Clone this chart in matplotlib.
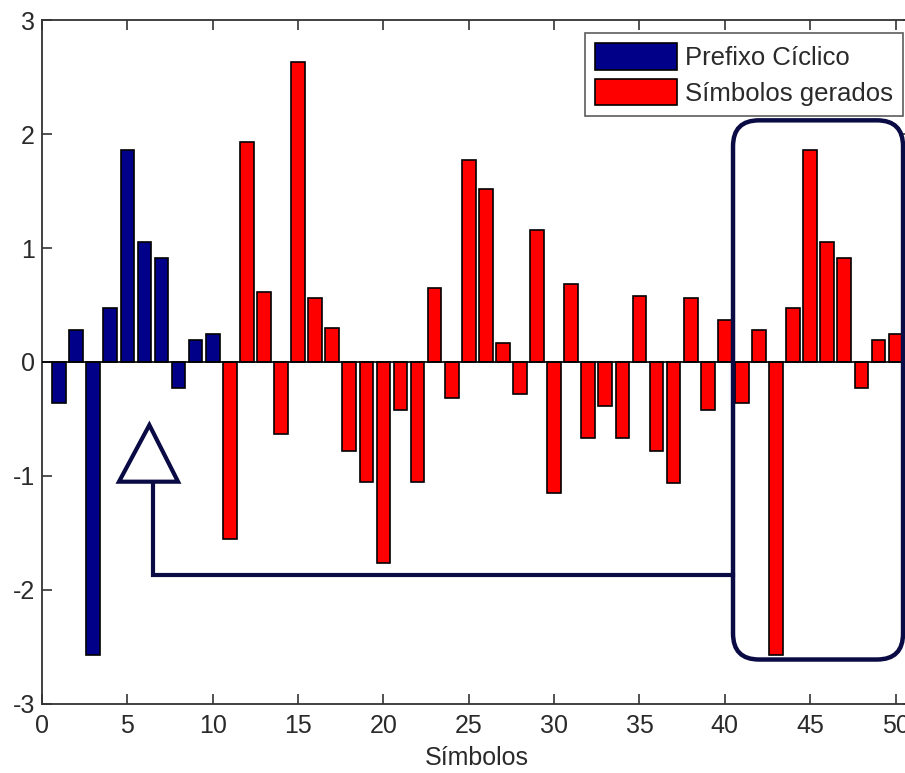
import matplotlib
matplotlib.use("Agg")
import matplotlib.pyplot as plt
from matplotlib.patches import FancyBboxPatch, Polygon, Patch
import numpy as np

# OFDM frame: 10-sample cyclic prefix followed by 40 generated symbols
prefix_idx = list(range(1, 11))
prefix_vals = [-0.36, 0.28, -2.57, 0.47, 1.86, 1.05, 0.915, -0.23, 0.19, 0.245]

symbol_idx = list(range(11, 51))
symbol_vals = [-1.55, 1.93, 0.61, -0.63, 2.63, 0.56, 0.295, -0.78, -1.055, -1.76,
               -0.42, -1.055, 0.645, -0.32, 1.77, 1.52, 0.17, -0.28, 1.16, -1.145,
               0.68, -0.67, -0.385, -0.67, 0.58, -0.78, -1.06, 0.56, -0.42, 0.37,
               -0.36, 0.28, -2.57, 0.47, 1.86, 1.05, 0.915, -0.23, 0.19, 0.245]

legend_labels = ["Prefixo Cíclico", "Símbolos gerados"]
x_label = "Símbolos"
x_ticks = [0, 5, 10, 15, 20, 25, 30, 35, 40, 45, 50]
y_ticks = [-3, -2, -1, 0, 1, 2, 3]

NAVY = "#000088"
RED = "#ff0000"
ANNOT = "#0a0a44"
TXT = "#2a2a2a"

plt.rcParams["font.family"] = ["Liberation Sans", "DejaVu Sans"]
plt.rcParams["axes.unicode_minus"] = False

fig = plt.figure(figsize=(9.05, 7.73), dpi=100)
ax = fig.add_axes([0.0464, 0.0893, 0.9620, 0.8848])

ax.bar(prefix_idx, prefix_vals, width=0.8, color=NAVY, edgecolor="black",
       linewidth=1.2, zorder=2)
ax.bar(symbol_idx, symbol_vals, width=0.8, color=RED, edgecolor="black",
       linewidth=1.2, zorder=2)
ax.axhline(0, color="black", linewidth=1.2, zorder=3)

ax.set_xlim(0, 51)
ax.set_ylim(-3, 3)
ax.set_xticks(x_ticks)
ax.set_yticks(y_ticks)
ax.tick_params(direction="in", length=7, width=1.2, colors="#333333",
               labelcolor=TXT, labelsize=18, top=True, right=True)
ax.tick_params(axis="x", pad=7)
ax.tick_params(axis="y", pad=5)
for s in ax.spines.values():
    s.set_color("#333333")
    s.set_linewidth(1.3)
ax.set_xlabel(x_label, fontsize=18, color=TXT, labelpad=6)

# Rounded box around the last ten symbols (copied into the prefix)
fig.canvas.draw()
p0 = ax.transData.transform((0, 0))
p1 = ax.transData.transform((1, 1))
px_x = p1[0] - p0[0]
px_y = p1[1] - p0[1]
radius_px = 26
rx = radius_px / px_x
aspect = (radius_px / px_y) / rx

box = FancyBboxPatch((40.48, -2.61), 50.44 - 40.48, 2.12 + 2.61,
                     boxstyle=f"round,pad=0,rounding_size={rx}",
                     mutation_aspect=aspect, facecolor="none",
                     edgecolor=ANNOT, linewidth=3.2, zorder=4, clip_on=False)
ax.add_patch(box)

# Connector from the box back to the prefix, ending in a hollow arrowhead
ax.plot([40.48, 6.49, 6.49], [-1.868, -1.868, -1.05], color=ANNOT,
        linewidth=3.0, solid_joinstyle="miter", zorder=4)
head = Polygon([(4.51, -1.05), (7.97, -1.05), (6.29, -0.553)], closed=True,
               facecolor="white", edgecolor=ANNOT, linewidth=3.0,
               joinstyle="miter", zorder=5)
ax.add_patch(head)

handles = [Patch(facecolor=NAVY, edgecolor="black", linewidth=1.2),
           Patch(facecolor=RED, edgecolor="black", linewidth=1.2)]
leg = ax.legend(handles, legend_labels, loc="upper right",
                bbox_to_anchor=(0.989, 0.981), fontsize=18.5, frameon=True,
                fancybox=False, edgecolor="#333333", handlelength=3.2,
                handleheight=1.2, handletextpad=0.3, borderpad=0.4,
                labelspacing=0.35, borderaxespad=0.0)
leg.get_frame().set_linewidth(1.2)
for t in leg.get_texts():
    t.set_color(TXT)

fig.savefig("out.png", dpi=100)
